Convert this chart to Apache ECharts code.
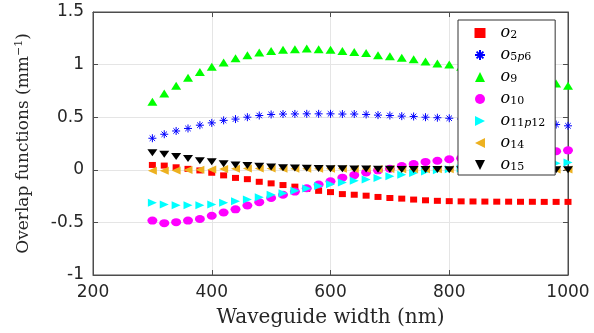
<!DOCTYPE html>
<html>
<head>
<meta charset="utf-8">
<script src="https://cdn.jsdelivr.net/npm/echarts@6/dist/echarts.min.js"></script>
<style>
  html, body { margin: 0; padding: 0; background: #fff; }
  #chart { width: 594px; height: 333px; }
</style>
</head>
<body>
<div id="chart"></div>
<script>
const widths = [300, 320, 340, 360, 380, 400, 420, 440, 460, 480, 500, 520, 540, 560, 580, 600, 620, 640,
    660, 680, 700, 720, 740, 760, 780, 800, 820, 840, 860, 880, 900, 920, 940, 960, 980, 1000];

const o2 = [0.046, 0.04, 0.024, 0.009, -0.006, -0.028, -0.053, -0.077, -0.089, -0.114, -0.129, -0.145, -0.16, -0.182,
    -0.2, -0.212, -0.231, -0.237, -0.246, -0.258, -0.268, -0.274, -0.283, -0.29, -0.295, -0.298, -0.3, -0.301,
    -0.302, -0.303, -0.303, -0.304, -0.304, -0.305, -0.305, -0.305];
const o5p6 = [0.30, 0.338, 0.369, 0.393, 0.424, 0.446, 0.47, 0.482, 0.50, 0.516, 0.526, 0.53, 0.531, 0.532, 0.532,
    0.532, 0.53, 0.53, 0.526, 0.52, 0.516, 0.51, 0.507, 0.50, 0.495, 0.49, 0.483, 0.477, 0.47, 0.464, 0.458, 0.452,
    0.446, 0.44, 0.43, 0.418];
const o9 = [0.648, 0.725, 0.80, 0.876, 0.93, 0.98, 1.02, 1.06, 1.09, 1.116, 1.13, 1.14, 1.147, 1.153, 1.147, 1.14,
    1.13, 1.12, 1.11, 1.09, 1.08, 1.065, 1.05, 1.03, 1.01, 1.0, 0.98, 0.96, 0.94, 0.92, 0.90, 0.88, 0.86, 0.84, 0.82, 0.80];
const o10 = [-0.483, -0.507, -0.498, -0.483, -0.468, -0.437, -0.406, -0.376, -0.339, -0.308, -0.268, -0.237, -0.207,
    -0.175, -0.14, -0.11, -0.075, -0.05, -0.025, -0.005, 0.01, 0.035, 0.055, 0.075, 0.086, 0.1, 0.11, 0.12, 0.13,
    0.138, 0.145, 0.152, 0.16, 0.167, 0.176, 0.185];
const o11p12 = [-0.314, -0.329, -0.336, -0.336, -0.336, -0.329, -0.314, -0.299, -0.283, -0.262, -0.237, -0.222, -0.2,
    -0.178, -0.154, -0.138, -0.12, -0.105, -0.092, -0.077, -0.062, -0.046, -0.031, -0.016, -0.005, 0.005, 0.012,
    0.02, 0.025, 0.03, 0.036, 0.042, 0.048, 0.055, 0.062, 0.07];
const o14 = [-0.008, -0.01, -0.006, -0.003, 0.0, 0.004, 0.008, 0.01, 0.012, 0.012, 0.012, 0.011, 0.011, 0.01, 0.01,
    0.009, 0.009, 0.008, 0.008, 0.007, 0.007, 0.006, 0.006, 0.005, 0.005, 0.005, 0.004, 0.004, 0.004, 0.004,
    0.003, 0.003, 0.003, 0.003, 0.003, 0.003];
const o15 = [0.162, 0.148, 0.126, 0.107, 0.086, 0.077, 0.058, 0.046, 0.04, 0.033, 0.026, 0.02, 0.017, 0.015, 0.013,
    0.011, 0.01, 0.008, 0.007, 0.006, 0.005, 0.004, 0.003, 0.002, 0.002, 0.001, 0.001, 0, 0, 0, 0, 0, 0, 0, 0, 0];

const xTicks = [200, 400, 600, 800, 1000];
const yTicks = [-1, -0.5, 0, 0.5, 1, 1.5];

// legend subscripts (p is italic)
const subs = { o2: "2", o5p6: "5p6", o9: "9", o10: "10", o11p12: "11p12", o14: "14", o15: "15" };

const asterisk = "path://M5,0L5,10M0,5L10,5M1.6,1.6L8.4,8.4M1.6,8.4L8.4,1.6";
const triUp = "path://M5,0L10,10L0,10Z";
const triDown = "path://M0,0L10,0L5,10Z";
const triRight = "path://M0,0L10,5L0,10Z";
const triLeft = "path://M10,0L0,5L10,10Z";

const styles = {
    o2: { symbol: "rect", size: [7, 6], color: "#ff0000" },
    o5p6: { symbol: asterisk, size: [8, 8], color: "#0000ff", stroke: true },
    o9: { symbol: triUp, size: [10, 8], color: "#00ff00" },
    o10: { symbol: "circle", size: [10, 8], color: "#ff00ff" },
    o11p12: { symbol: triRight, size: [9, 8], color: "#00ffff" },
    o14: { symbol: triLeft, size: [9, 8], color: "#edb120" },
    o15: { symbol: triDown, size: [10, 7], color: "#000000" },
};

const data = { o2, o5p6, o9, o10, o11p12, o14, o15 };

function pairs(ys) {
    return widths.map((w, i) => [w, ys[i]]);
}

function legendText(name) {
    const s = subs[name];
    let out = "{o|o}";
    s.split("").forEach((ch) => {
        out += ch === "p" ? "{sp|p}" : "{s|" + ch + "}";
    });
    return out;
}

const series = Object.keys(data).map((key) => {
    const st = styles[key];
    return {
        name: key,
        type: "scatter",
        data: pairs(data[key]),
        symbol: st.symbol,
        symbolSize: st.size,
        itemStyle: st.stroke
            ? { color: st.color, borderColor: st.color, borderWidth: 1, opacity: 1 }
            : { color: st.color, opacity: 1 },
        emphasis: { disabled: true },
        silent: true,
    };
});

const axisCol = "#4d4d4d";
const gridCol = "#e5e5e5";

const option = {
    animation: false,
    backgroundColor: "#fff",
    grid: {
        left: 93,
        right: 26,
        top: 12,
        bottom: 50,
        show: true,
        borderColor: axisCol,
        borderWidth: 1,
    },
    legend: {
        orient: "vertical",
        left: 458,
        top: 20,
        padding: [4, 10, 2, 16],
        itemWidth: 11,
        itemHeight: 10,
        itemGap: 5.0,
        itemTextGap: 16,
        backgroundColor: "#fff",
        borderColor: "#333",
        borderWidth: 1,
        borderRadius: 0,
        data: Object.keys(data),
        formatter: legendText,
        textStyle: {
            rich: {
                o: { fontFamily: "DejaVu Serif", fontStyle: "italic", fontSize: 16, color: "#000", lineHeight: 16, verticalAlign: "middle", padding: [0, 0, 0, 10] },
                s: { fontFamily: "DejaVu Serif", fontSize: 11, color: "#000", lineHeight: 16, verticalAlign: "bottom", padding: [6, 0, 0, 0] },
                sp: { fontFamily: "DejaVu Serif", fontStyle: "italic", fontSize: 11, color: "#000", lineHeight: 16, verticalAlign: "bottom", padding: [6, 0, 0, 0] },
            },
        },
    },
    xAxis: [
        {
            type: "value",
            min: 200,
            max: 1000,
            interval: 200,
            name: "Waveguide width (nm)",
            nameLocation: "middle",
            nameGap: 33,
            nameTextStyle: { fontFamily: "DejaVu Serif", fontSize: 20, color: "#262626" },
            axisLine: { show: true, onZero: false, lineStyle: { color: axisCol } },
            axisTick: { show: true, inside: true, length: 5, lineStyle: { color: axisCol } },
            axisLabel: {
                fontFamily: "DejaVu Sans",
                fontSize: 17,
                color: "#262626",
                margin: 9,
                formatter: (v) => String(v),
            },
            splitLine: { show: true, lineStyle: { color: gridCol } },
        },
        {
            type: "value",
            position: "top",
            min: 200,
            max: 1000,
            interval: 200,
            axisLine: { show: true, onZero: false, lineStyle: { color: axisCol } },
            axisTick: { show: true, inside: true, length: 5, lineStyle: { color: axisCol } },
            axisLabel: { show: false },
            splitLine: { show: false },
        },
    ],
    yAxis: [
        {
            type: "value",
            min: -1,
            max: 1.5,
            interval: 0.5,
            name: "Overlap functions (mm{sup|−1})",
            nameLocation: "middle",
            nameGap: 60,
            nameTextStyle: {
                fontFamily: "DejaVu Serif",
                fontSize: 17,
                color: "#262626",
                rich: {
                    sup: { fontFamily: "DejaVu Serif", fontSize: 11, color: "#262626", verticalAlign: "top", padding: [0, 0, 8, 0] },
                },
            },
            axisLine: { show: true, onZero: false, lineStyle: { color: axisCol } },
            axisTick: { show: true, inside: true, length: 5, lineStyle: { color: axisCol } },
            axisLabel: {
                fontFamily: "DejaVu Sans",
                fontSize: 17,
                color: "#262626",
                margin: 9,
                formatter: (v) => String(v),
            },
            splitLine: { show: true, lineStyle: { color: gridCol } },
        },
        {
            type: "value",
            position: "right",
            min: -1,
            max: 1.5,
            interval: 0.5,
            axisLine: { show: true, onZero: false, lineStyle: { color: axisCol } },
            axisTick: { show: true, inside: true, length: 5, lineStyle: { color: axisCol } },
            axisLabel: { show: false },
            splitLine: { show: false },
        },
    ],
    series: series,
};

const chart = echarts.init(document.getElementById("chart"), null, { renderer: "canvas" });
chart.setOption(option);
</script>
</body>
</html>
